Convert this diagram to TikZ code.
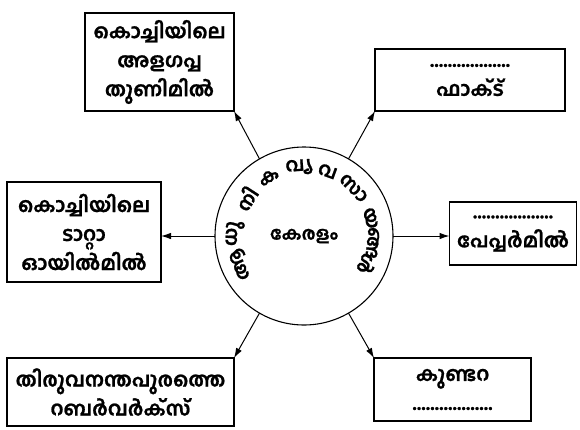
\documentclass[tikz,border=0pt]{standalone}
\usepackage{fontspec}
\newfontfamily\malfont[Script=Malayalam, BoldFeatures={FakeBold=1}]{Hind Kochi}
\usetikzlibrary{arrows.meta}

\begin{document}
\begin{tikzpicture}[x=1pt, y=-1pt, inner sep=0, outer sep=0,
    box/.style={draw, line width=1.1pt, align=center,
      font=\malfont\bfseries\fontsize{20}{29}\selectfont},
    link/.style={-{Latex[length=10pt,width=6.5pt]}, line width=1pt},
    arcword/.style={font=\malfont\bfseries\fontsize{19}{19}\selectfont}]

        \useasboundingbox (0,0) rectangle (580,429);

        % centre
        \node [draw, circle, line width=1.1pt, minimum size=178pt,
          font=\malfont\bfseries\fontsize{18}{18}\selectfont] (kerala) at (304,236) {കേരളം};
        \foreach \ang/\syl [count=\i] in {204/ആ, 178/ധു, 147/നി, 121/ക, 94/വ്യ, 70/വ,
            44/സാ, 15/യ, -6/ങ്ങ, -24/ൾ}
          \node [arcword, rotate=\ang-90] (arc\i) at ([shift={(\ang:69pt)}]kerala.center) {\syl};

        % boxes
        \node [box, minimum width=149pt, minimum height=98pt] (tlbox) at (159.5,62)
          {കൊച്ചിയിലെ\\അളഗപ്പ\\തുണിമിൽ};
        \node [box, minimum width=190pt, minimum height=62pt] (trbox) at (470,80)
          {..................\\ഫാക്ട്};
        \node [box, minimum width=127pt, minimum height=63pt] (rbox) at (513,233.5)
          {..................\\പേപ്പർമിൽ};
        \node [box, minimum width=154pt, minimum height=100pt] (lbox) at (84,232)
          {കൊച്ചിയിലെ\\ടാറ്റാ\\ഓയിൽമിൽ};
        \node [box, minimum width=227pt, minimum height=68pt] (blbox) at (120.5,392)
          {തിരുവനന്തപുരത്തെ\\റബർവർക്സ്};
        \node [box, minimum width=157pt, minimum height=63pt] (brbox) at (452.5,389.5)
          {കുണ്ടറ\\..................};

        % arrows
        \draw [link] (kerala.120) -- (tlbox.south east);
        \draw [link] (kerala.60) -- (trbox.south west);
        \draw [link] (kerala.west) -- (kerala.west -| lbox.east);
        \draw [link] (kerala.east) -- (kerala.east -| rbox.west);
        \draw [link] (kerala.-120) -- (blbox.north east);
        \draw [link] (kerala.-60) -- (brbox.north west);

        \end{tikzpicture}
\end{document}
